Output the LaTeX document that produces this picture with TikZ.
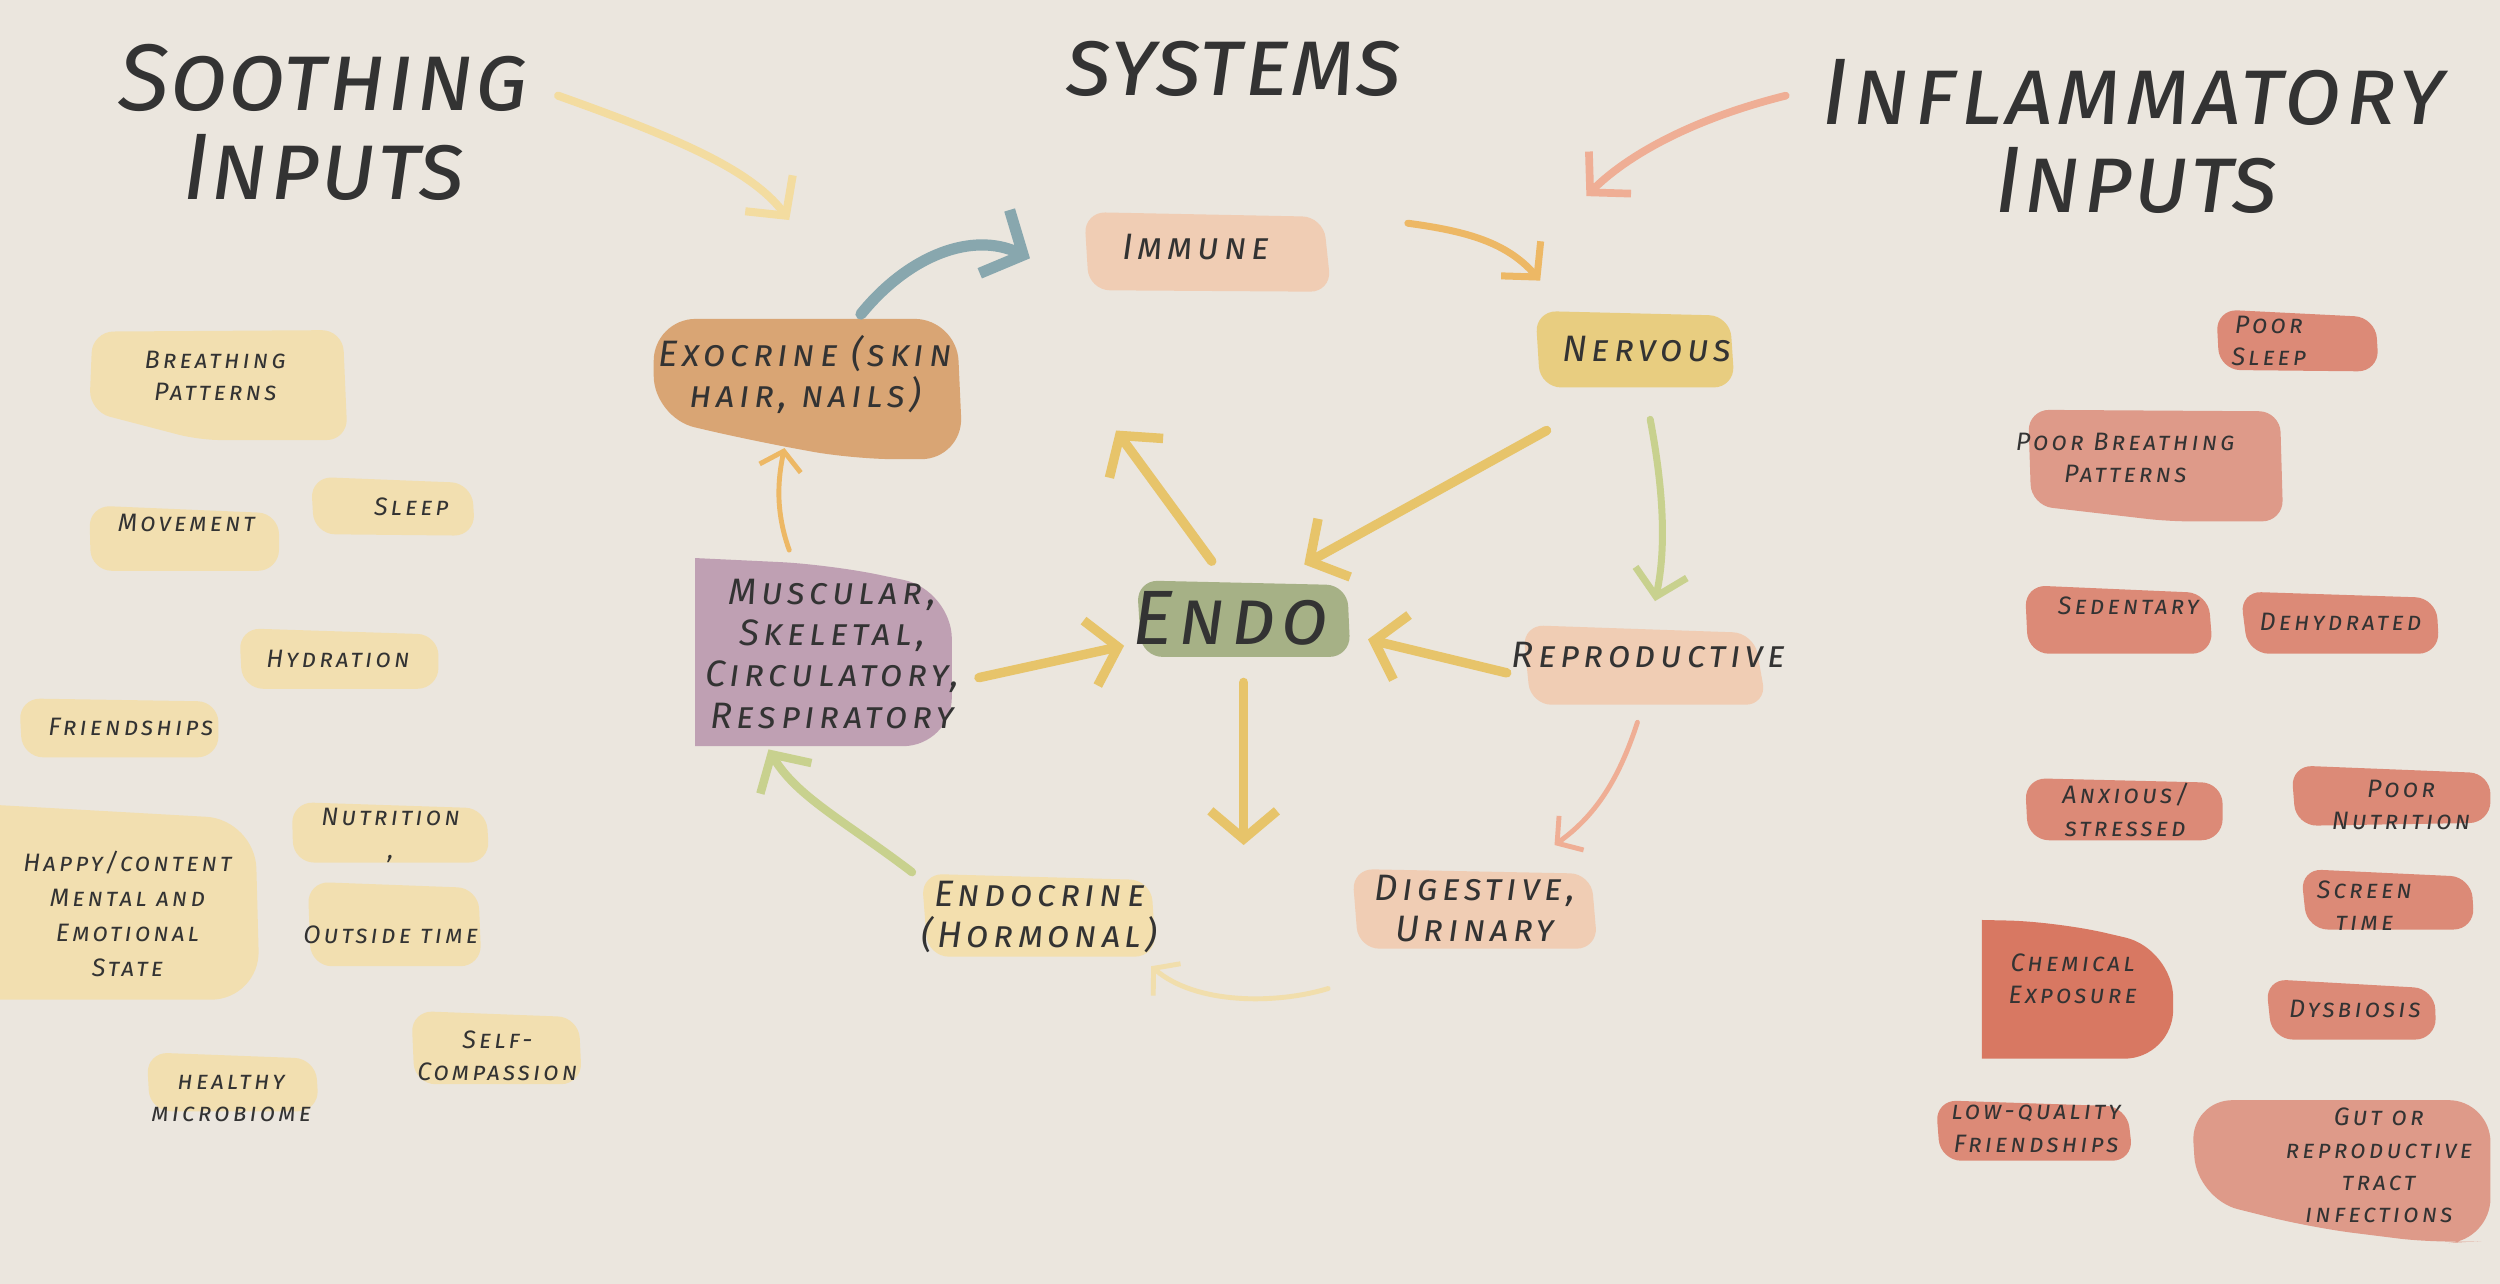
\documentclass[tikz,border=0pt]{standalone}
\usepackage{fontspec}
\setmainfont{Fira Sans}
\newfontfamily\hand{Fira Sans}[Letters=SmallCaps, LetterSpace=12]
\usetikzlibrary{arrows.meta}
\definecolor{bg}{HTML}{EBE6DE}
\definecolor{ink}{HTML}{333333}
\definecolor{sooth}{HTML}{F2DFB0}
\definecolor{inflA}{HTML}{DC8A77}
\definecolor{inflB}{HTML}{DE9A89}
\definecolor{chem}{HTML}{D87862}
\definecolor{peach}{HTML}{F0CDB4}
\definecolor{nerv}{HTML}{E8CD80}
\definecolor{exo}{HTML}{D9A574}
\definecolor{musc}{HTML}{BFA0B3}
\definecolor{endo}{HTML}{A6B186}
\definecolor{endocr}{HTML}{F3DFAE}
\definecolor{ayel}{HTML}{E7C46A}
\definecolor{aora}{HTML}{EDB865}
\definecolor{agrn}{HTML}{C8D18E}
\definecolor{ablu}{HTML}{88A7AE}
\definecolor{asal}{HTML}{EFAE95}
\definecolor{apale}{HTML}{F3DCA0}
\newcommand\smtxt{\hand\itshape\fontsize{7.2}{9.2}\selectfont}
\newcommand\mdtxt{\hand\itshape\fontsize{10.5}{11.8}\selectfont}
\newcommand\bgtxt{\hand\itshape\addfontfeature{LetterSpace=1}\fontsize{27}{28}\selectfont}
\newcommand\bgwtxt{\hand\itshape\addfontfeature{LetterSpace=3.5}\fontsize{27}{28}\selectfont}
\newcommand\ctrtxt{\hand\itshape\addfontfeature{LetterSpace=7}\fontsize{22}{24}\selectfont}
\tikzset{
  blob/.style={rounded corners=6pt},
  sm/.style={text=ink, align=center, inner sep=0pt, font=\smtxt},
  md/.style={text=ink, align=center, inner sep=0pt, font=\mdtxt},
  ttl/.style={text=ink, align=center, inner sep=0pt, font=\bgtxt},
  thick arrow/.style={line width=2.7pt, line cap=round, line join=round, -{Straight Barb[length=8pt,width=19pt]}},
  thin arrow/.style={line width=1.4pt, line cap=round, line join=round, -{Straight Barb[length=5pt,width=12pt]}},
}
\begin{document}
\begin{tikzpicture}[x=0.016cm, y=-0.016cm]
\fill[bg] (0,0) rectangle (1568,805);
\useasboundingbox (0,0) rectangle (1568,805);

% ---------- titles ----------
\node[ttl] (tsooth) at (203,49) {Soothing};
\node[ttl] (tsoothb) at (203,105) {Inputs};
\node[ttl] (tsys) at (774,43) {systems};
\node[ttl, font=\bgwtxt] (tinfl) at (1338,58) {Inflammatory};
\node[ttl] (tinflb) at (1340,113) {Inputs};

% ---------- soothing blobs ----------
\fill[sooth, blob] (58,208) -- (215,207) -- (218,276) -- (125,276) -- (56,258) -- cycle;
\fill[sooth, blob] (195,299) -- (296,303) -- (298,336) -- (197,335) -- cycle;
\fill[sooth, blob] (56,317) -- (175,322) -- (175,358) -- (57,358) -- cycle;
\fill[sooth, blob] (150,394) -- (275,398) -- (275,432) -- (152,432) -- cycle;
\fill[sooth, blob] (12,438) -- (137,440) -- (137,475) -- (14,475) -- cycle;
\fill[sooth] (0,505) [rounded corners=14pt] -- (160,514) -- (163,627) [sharp corners] -- (0,627) -- cycle;
\fill[sooth, blob] (183,503) -- (305,507) -- (307,541) -- (184,541) -- cycle;
\fill[sooth, blob] (193,553) -- (300,557) -- (302,606) -- (195,606) -- cycle;
\fill[sooth, blob] (258,634) -- (363,638) -- (365,680) -- (260,680) -- cycle;
\fill[sooth, blob] (92,660) -- (198,664) -- (200,697) -- (94,697) -- cycle;

\node[sm] (breath) at (135,236) {Breathing\\Patterns};
\node[sm] (sleep) at (258,318) {Sleep};
\node[sm] (move) at (117,328) {Movement};
\node[sm] (hydr) at (212,413) {Hydration};
\node[sm] (friend) at (82,456) {Friendships};
\node[sm, font=\hand\itshape\fontsize{7.2}{10}\selectfont] (happy) at (80,573) {Happy/content\\Mental and\\Emotional\\State};
\node[sm] (nutr) at (245,524) {Nutrition\\,};
\node[sm] (outs) at (245,586) {Outside time};
\node[sm] (selfc) at (312,662) {Self-\\Compassion};
\node[sm] (micro) at (145,689) {healthy\\microbiome};

% ---------- inflammatory blobs ----------
\fill[inflA, blob] (1390,194) -- (1490,199) -- (1492,233) -- (1392,232) -- cycle;
\fill[inflB, blob] (1272,257) -- (1430,258) -- (1432,327) -- (1360,327) -- (1274,317) -- cycle;
\fill[inflA, blob] (1270,367) -- (1385,372) -- (1388,410) -- (1272,410) -- cycle;
\fill[inflA, blob] (1405,371) -- (1528,375) -- (1530,410) -- (1410,410) -- cycle;
\fill[inflA, blob] (1270,488) -- (1394,491) -- (1394,527) -- (1272,527) -- cycle;
\fill[inflA, blob] (1437,480) -- (1562,485) -- (1562,516) -- (1440,518) -- cycle;
\fill[inflA, blob] (1443,545) -- (1550,550) -- (1552,583) -- (1447,583) -- cycle;
\fill[chem] (1243,577) [rounded corners=14pt] -- (1290,578) -- (1363,595) -- (1363,664) [sharp corners] -- (1243,664) -- cycle;
\fill[inflA, blob] (1421,614) -- (1527,620) -- (1528,652) -- (1425,652) -- cycle;
\fill[inflA, blob] (1214,690) -- (1334,694) -- (1338,728) -- (1217,728) -- cycle;
\fill[inflB, rounded corners=12pt] (1470,690) -- (1562,690) -- (1562,778) -- (1530,780) -- (1450,770) -- (1378,752) -- (1374,690) -- cycle;

\node[sm] (psleep) at (1423,214) {Poor\\Sleep};
\node[sm] (pbreath) at (1333,287) {Poor Breathing\\Patterns};
\node[sm] (sedent) at (1335,380) {Sedentary};
\node[sm] (dehyd) at (1468,390) {Dehydrated};
\node[sm] (anx) at (1333,508) {Anxious/\\stressed};
\node[sm] (pnutr) at (1506,505) {Poor\\Nutrition};
\node[sm] (screen) at (1483,568) {Screen\\time};
\node[sm] (chemx) at (1300,614) {Chemical\\Exposure};
\node[sm] (dysb) at (1477,633) {Dysbiosis};
\node[sm] (lowq) at (1277,708) {low-quality\\Friendships};
\node[sm] (gut) at (1492,731) {Gut or\\reproductive\\tract\\infections};

% ---------- systems blobs ----------
\fill[peach, blob] (680,133) -- (830,136) -- (835,183) -- (683,182) -- cycle;
\fill[nerv, blob] (963,195) -- (1085,198) -- (1088,243) -- (966,243) -- cycle;
\fill[exo] (410,200) [rounded corners=12pt] -- (600,200) -- (604,288) -- (535,288) -- (470,276) -- (410,262) -- cycle;
\fill[musc] (436,350) [rounded corners=14pt] -- (520,354) -- (597,370) -- (597,468) [sharp corners] -- (436,468) -- cycle;
\fill[endo, blob] (713,364) -- (845,367) -- (847,412) -- (716,412) -- cycle;
\fill[peach, blob] (955,392) -- (1100,397) -- (1108,442) -- (960,442) -- cycle;
\fill[peach, blob] (848,545) -- (998,548) -- (1002,595) -- (852,595) -- cycle;
\fill[endocr, blob] (578,548) -- (722,552) -- (725,600) -- (582,600) -- cycle;

\node[md] (immune) at (750,155) {Immune};
\node[md] (nervous) at (1033,219) {Nervous};
\node[md] (exocrine) at (505,235) {Exocrine (skin\\hair, nails)};
\node[md] (muscular) at (522,410) {Muscular,\\Skeletal,\\Circulatory,\\Respiratory};
\node[text=ink, inner sep=0pt, font=\ctrtxt] (endo) at (772,388) {Endo};
\node[md] (repro) at (1034,411) {Reproductive};
\node[md] (digest) at (925,570) {Digestive,\\Urinary};
\node[md] (endocrine) at (652,575) {Endocrine\\(Hormonal)};

% ---------- connectors ----------
\coordinate (s1) at (350,60);  \coordinate (s2) at (495,138);
\draw[apale, line width=2.3pt, line cap=round, -{Straight Barb[length=8pt,width=17pt]}]
  (s1) .. controls (420,85) and (470,105) .. (s2);
\coordinate (i1) at (1120,60); \coordinate (i2) at (995,123);
\draw[asal, line width=2.2pt, line cap=round, -{Straight Barb[length=8pt,width=17pt]}]
  (i1) .. controls (1060,75) and (1020,98) .. (i2);

\coordinate (e1) at (540,197); \coordinate (e2) at (646,162);
\draw[ablu, line width=3.2pt, line cap=round, -{Straight Barb[length=9pt,width=20pt]}]
  (e1) .. controls (570,160) and (610,145) .. (e2);
\coordinate (m1) at (883,140); \coordinate (m2) at (966,176);
\draw[aora, line width=2pt, line cap=round, -{Straight Barb[length=7pt,width=15pt]}]
  (m1) .. controls (920,145) and (945,152) .. (m2);

\coordinate (n1) at (970,270); \coordinate (n2) at (818,354);
\draw[ayel, thick arrow] (n1) -- (n2);
\coordinate (n3) at (1035,263); \coordinate (n4) at (1038,377);
\draw[agrn, line width=2pt, line cap=round, -{Straight Barb[length=7pt,width=15pt]}]
  (n3) .. controls (1042,300) and (1046,340) .. (n4);

\coordinate (d1) at (760,352); \coordinate (d2) at (700,270);
\draw[ayel, thick arrow] (d1) -- (d2);
\coordinate (u1) at (614,425); \coordinate (u2) at (705,405);
\draw[ayel, thick arrow] (u1) -- (u2);
\coordinate (r1) at (945,422); \coordinate (r2) at (858,401);
\draw[ayel, thick arrow] (r1) -- (r2);
\coordinate (w1) at (780,428); \coordinate (w2) at (780,530);
\draw[ayel, thick arrow] (w1) -- (w2);

\coordinate (g1) at (1027,453); \coordinate (g2) at (975,530);
\draw[asal, thin arrow] (g1) .. controls (1015,490) and (1000,512) .. (g2);
\coordinate (h1) at (833,620); \coordinate (h2) at (722,606);
\draw[apale!80!bg, thin arrow] (h1) .. controls (800,630) and (750,630) .. (h2);
\coordinate (k1) at (572,547); \coordinate (k2) at (482,470);
\draw[agrn, line width=2.4pt, line cap=round, -{Straight Barb[length=8pt,width=17pt]}]
  (k1) .. controls (530,515) and (500,500) .. (k2);
\coordinate (q1) at (495,345); \coordinate (q2) at (492,281);
\draw[aora, thin arrow] (q1) .. controls (486,320) and (488,300) .. (q2);
\end{tikzpicture}
\end{document}
